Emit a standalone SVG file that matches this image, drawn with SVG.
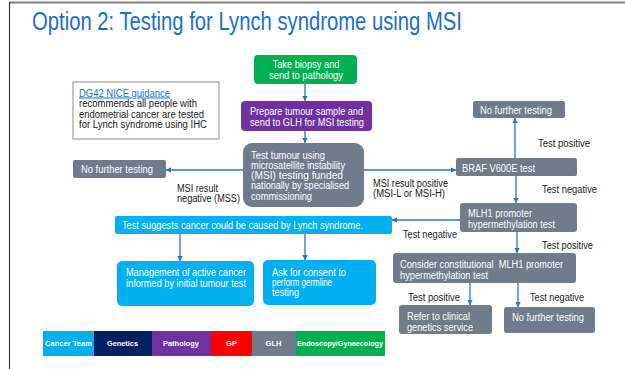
<svg xmlns="http://www.w3.org/2000/svg" width="625" height="369" viewBox="0 0 625 369">
  <style>
    text { font-family: "Liberation Sans", Arial, sans-serif; font-size: 10px; }
    .w { fill: #ffffff; }
    .k { fill: #1a1a1a; }
    .title { font-size: 25px; fill: #1e6fc6; }
    .link { fill: #1e6fc6; text-decoration: underline; }
    .leg { font-size: 7.5px; font-weight: bold; fill: #ffffff; text-anchor: middle; }
    .gray { fill: #6e7c8b; }
    .blue { fill: #00b0f0; }
    .conn { stroke: #2f6fc4; stroke-width: 1.3; fill: none; marker-end: url(#arr); }
  </style>
  <defs>
    <marker id="arr" markerUnits="userSpaceOnUse" markerWidth="6" markerHeight="6" refX="5" refY="3" orient="auto">
      <path d="M0,0.3 L5,3 L0,5.7 Z" fill="#2f6fc4"/>
    </marker>
  </defs>

  <!-- slide frame -->
  <line x1="9" y1="2.5" x2="625" y2="2.5" stroke="#808080" stroke-width="2"/>
  <line x1="9.5" y1="2" x2="9.5" y2="369" stroke="#3a3a3a" stroke-width="1.2"/>

  <text class="title" x="32" y="30" textLength="430" lengthAdjust="spacingAndGlyphs">Option 2: Testing for Lynch syndrome using MSI</text>

  <!-- connectors -->
  <g id="connectors">
    <line class="conn" x1="305" y1="84" x2="305" y2="101"/>
    <line class="conn" x1="305" y1="131" x2="305" y2="143"/>
    <line class="conn" x1="243" y1="170" x2="166" y2="170"/>
    <line class="conn" x1="364" y1="170" x2="456" y2="170"/>
    <line class="conn" x1="515" y1="158" x2="515" y2="118"/>
    <line class="conn" x1="516" y1="176" x2="516" y2="203"/>
    <line class="conn" x1="460" y1="220" x2="392" y2="220"/>
    <line class="conn" x1="517" y1="232" x2="517" y2="253"/>
    <line class="conn" x1="470" y1="283" x2="470" y2="305"/>
    <line class="conn" x1="518" y1="283" x2="518" y2="307"/>
    <line class="conn" x1="180" y1="234" x2="180" y2="261"/>
    <line class="conn" x1="305" y1="234" x2="305" y2="260"/>
  </g>

  <!-- connector labels -->
  <g id="labels" class="k">
    <text class="k" x="177" y="191.5" textLength="41" lengthAdjust="spacingAndGlyphs">MSI result</text>
    <text class="k" x="177" y="201.5" textLength="63" lengthAdjust="spacingAndGlyphs">negative (MSS)</text>
    <text class="k" x="373" y="186.5" textLength="75" lengthAdjust="spacingAndGlyphs">MSI result positive</text>
    <text class="k" x="373" y="196.5" textLength="72" lengthAdjust="spacingAndGlyphs">(MSI-L or MSI-H)</text>
    <text class="k" x="538" y="146.5" textLength="52" lengthAdjust="spacingAndGlyphs">Test positive</text>
    <text class="k" x="542" y="192.5" textLength="55" lengthAdjust="spacingAndGlyphs">Test negative</text>
    <text class="k" x="403" y="237.5" textLength="54" lengthAdjust="spacingAndGlyphs">Test negative</text>
    <text class="k" x="542" y="248.5" textLength="51" lengthAdjust="spacingAndGlyphs">Test positive</text>
    <text class="k" x="408" y="300.5" textLength="52" lengthAdjust="spacingAndGlyphs">Test positive</text>
    <text class="k" x="530" y="300.5" textLength="54" lengthAdjust="spacingAndGlyphs">Test negative</text>
  </g>

  <g id="biopsy">
    <rect x="254" y="55" width="103" height="29" rx="4" fill="#00b050"/>
    <text class="w" x="306" y="68" text-anchor="middle" textLength="67" lengthAdjust="spacingAndGlyphs">Take biopsy and</text>
    <text class="w" x="306" y="78.5" text-anchor="middle" textLength="74" lengthAdjust="spacingAndGlyphs">send to pathology</text>
  </g>

  <g id="prepare">
    <rect x="241" y="101" width="131" height="30" rx="4" fill="#7030a0"/>
    <text class="w" x="250" y="114.5" textLength="113" lengthAdjust="spacingAndGlyphs">Prepare tumour sample and</text>
    <text class="w" x="250" y="125.5" textLength="114" lengthAdjust="spacingAndGlyphs">send to GLH for MSI testing</text>
  </g>

  <g id="guidance">
    <rect x="73" y="82" width="146" height="57" fill="#ffffff" stroke="#8c8c8c" stroke-width="1"/>
    <text class="link" x="79" y="96.5" textLength="91" lengthAdjust="spacingAndGlyphs">DG42 NICE guidance</text>
    <text class="k" x="79" y="107" textLength="118" lengthAdjust="spacingAndGlyphs">recommends all people with</text>
    <text class="k" x="79" y="117.5" textLength="125" lengthAdjust="spacingAndGlyphs">endometrial cancer are tested</text>
    <text class="k" x="79" y="128" textLength="128" lengthAdjust="spacingAndGlyphs">for Lynch syndrome using IHC</text>
  </g>

  <g id="msi-test">
    <rect class="gray" x="243" y="143" width="121" height="64" rx="9"/>
    <text class="w" x="251" y="158.5" textLength="74" lengthAdjust="spacingAndGlyphs">Test tumour using</text>
    <text class="w" x="251" y="168.5" textLength="94" lengthAdjust="spacingAndGlyphs">microsatellite instability</text>
    <text class="w" x="251" y="178.5" textLength="92" lengthAdjust="spacingAndGlyphs">(MSI) testing funded</text>
    <text class="w" x="251" y="189" textLength="98" lengthAdjust="spacingAndGlyphs">nationally by specialised</text>
    <text class="w" x="251" y="199.5" textLength="61" lengthAdjust="spacingAndGlyphs">commissioning</text>
  </g>

  <g id="no-further-mss">
    <rect class="gray" x="73" y="160" width="93" height="18" rx="2"/>
    <text class="w" x="81" y="172.5" textLength="72" lengthAdjust="spacingAndGlyphs">No further testing</text>
  </g>

  <g id="braf">
    <rect class="gray" x="456" y="158" width="121" height="18" rx="2"/>
    <text class="w" x="462" y="171.5" textLength="73" lengthAdjust="spacingAndGlyphs">BRAF V600E test</text>
  </g>

  <g id="no-further-braf">
    <rect class="gray" x="473" y="101" width="92" height="17" rx="2"/>
    <text class="w" x="480" y="113.5" textLength="72" lengthAdjust="spacingAndGlyphs">No further testing</text>
  </g>

  <g id="mlh1">
    <rect class="gray" x="460" y="203" width="117" height="29" rx="3"/>
    <text class="w" x="468" y="216.5" textLength="64" lengthAdjust="spacingAndGlyphs">MLH1 promoter</text>
    <text class="w" x="468" y="227.5" textLength="87" lengthAdjust="spacingAndGlyphs">hypermethylation test</text>
  </g>

  <g id="constitutional">
    <rect class="gray" x="393" y="253" width="183" height="30" rx="3"/>
    <text class="w" x="400" y="267.5" textLength="163" lengthAdjust="spacingAndGlyphs" xml:space="preserve">Consider constitutional  MLH1 promoter</text>
    <text class="w" x="400" y="278.5" textLength="88" lengthAdjust="spacingAndGlyphs">hypermethylation test</text>
  </g>

  <g id="refer">
    <rect class="gray" x="399" y="305" width="93" height="29" rx="3"/>
    <text class="w" x="407" y="319.5" textLength="63" lengthAdjust="spacingAndGlyphs">Refer to clinical</text>
    <text class="w" x="407" y="330.5" textLength="66" lengthAdjust="spacingAndGlyphs">genetics service</text>
  </g>

  <g id="no-further-constitutional">
    <rect class="gray" x="504" y="307" width="91" height="26" rx="3"/>
    <text class="w" x="512" y="320.5" textLength="72" lengthAdjust="spacingAndGlyphs">No further testing</text>
  </g>

  <g id="lynch">
    <rect class="blue" x="115" y="216" width="277" height="18" rx="2"/>
    <text class="w" x="122" y="228.5" textLength="241" lengthAdjust="spacingAndGlyphs">Test suggests cancer could be caused by Lynch syndrome.</text>
  </g>

  <g id="management">
    <rect class="blue" x="117" y="261" width="137" height="45" rx="5"/>
    <text class="w" x="126" y="275.5" textLength="120" lengthAdjust="spacingAndGlyphs">Management of active cancer</text>
    <text class="w" x="126" y="286.5" textLength="120" lengthAdjust="spacingAndGlyphs">informed by initial tumour test</text>
  </g>

  <g id="consent">
    <rect class="blue" x="263" y="260" width="113" height="45" rx="5"/>
    <text class="w" x="272" y="275.5" textLength="74" lengthAdjust="spacingAndGlyphs">Ask for consent to</text>
    <text class="w" x="272" y="285.5" textLength="60" lengthAdjust="spacingAndGlyphs">perform germline</text>
    <text class="w" x="272" y="295.5" textLength="27" lengthAdjust="spacingAndGlyphs">testing</text>
  </g>

  <!-- colour key -->
  <g id="legend">
    <rect x="43" y="331" width="51" height="25" fill="#00b0f0"/>
    <rect x="94" y="331" width="58" height="25" fill="#002060"/>
    <rect x="152" y="331" width="59" height="25" fill="#7030a0"/>
    <rect x="211" y="331" width="41" height="25" fill="#ff0000"/>
    <rect x="252" y="331" width="44" height="25" fill="#6e7c8b"/>
    <rect x="296" y="331" width="89" height="25" fill="#00b050"/>
    <text class="leg" x="68.5" y="345.5" textLength="47" lengthAdjust="spacingAndGlyphs">Cancer Team</text>
    <text class="leg" x="122.5" y="345.5" textLength="31" lengthAdjust="spacingAndGlyphs">Genetics</text>
    <text class="leg" x="181" y="345.5" textLength="36" lengthAdjust="spacingAndGlyphs">Pathology</text>
    <text class="leg" x="231.5" y="345.5">GP</text>
    <text class="leg" x="273.5" y="345.5">GLH</text>
    <text class="leg" x="340" y="345.5" textLength="86" lengthAdjust="spacingAndGlyphs">Endoscopy/Gynaecology</text>
  </g>
</svg>
